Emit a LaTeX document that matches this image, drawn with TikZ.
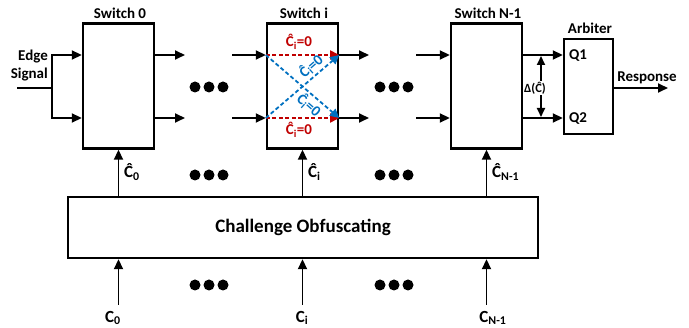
\documentclass[tikz,border=0pt]{standalone}
\usepackage{fontspec}
\setmainfont{Carlito}
\usetikzlibrary{arrows.meta}
\definecolor{myred}{RGB}{192,0,0}
\definecolor{myblue}{RGB}{0,112,192}
\begin{document}
\begin{tikzpicture}[x=1pt,y=-1pt,
  swbox/.style={draw, line width=2.4pt, inner sep=0pt, minimum width=71pt, minimum height=125pt},
  arr/.style={line width=1.8pt, -{Triangle[length=10pt,width=9pt]}},
  lbl/.style={font=\bfseries\fontsize{15}{18}\selectfont, inner sep=0pt},
  blbl/.style={font=\bfseries\fontsize{17}{18}\selectfont, inner sep=0pt},
  bigdot/.style={circle, fill=black, inner sep=0pt, minimum size=11pt},
  rdash/.style={myred, line width=1.8pt, dash pattern=on 4pt off 2.5pt, -{Triangle[length=9pt,width=9pt]}},
  bdash/.style={myblue, line width=1.8pt, dash pattern=on 4pt off 2.5pt, -{Triangle[length=9pt,width=9pt]}},
  clbl/.style={font=\bfseries\fontsize{15}{16}\selectfont, inner sep=0pt}
]
\useasboundingbox (0,0) rectangle (689,328);

% rows
\coordinate (yTop) at (0,55);
\coordinate (yBot) at (0,118);
\coordinate (yMid) at (0,88);

% switches
\node[swbox] (sw0) at (118.5,86) {};
\node[swbox] (swi) at (302.5,86) {};
\node[swbox] (swN) at (486.5,86) {};
\node[lbl, anchor=south] (t0) at (120,19) {Switch 0};
\node[lbl, anchor=south] (ti) at (304,19) {Switch i};
\node[lbl, anchor=south] (tN) at (488,19) {Switch N-1};

% arbiter
\node[draw, line width=2.4pt, inner sep=0pt, minimum width=49pt, minimum height=95pt] (arb) at (588.5,86.5) {};
\node[lbl, anchor=south] (ta) at (590,34) {Arbiter};
\node[lbl, anchor=west] (q1) at (569,56) {Q1};
\node[lbl, anchor=west] (q2) at (569,119) {Q2};

% edge signal
\node[lbl, align=right, anchor=east] (es) at (48,66) {Edge\\Signal};
\coordinate (esin) at (17,88);
\coordinate (split) at (52,88);
\draw[line width=1.8pt] (esin) -- (split);
\draw[arr] (split) |- (sw0.west |- yTop);
\draw[arr] (split) |- (sw0.west |- yBot);

% outputs of switch 0
\coordinate (o0a) at (185,55);
\coordinate (o0b) at (185,118);
\draw[arr] (sw0.east |- yTop) -- (o0a);
\draw[arr] (sw0.east |- yBot) -- (o0b);
% inputs of switch i
\coordinate (iia) at (232,55);
\coordinate (iib) at (232,118);
\draw[arr] (iia) -- (swi.west |- yTop);
\draw[arr] (iib) -- (swi.west |- yBot);
% outputs of switch i
\coordinate (oia) at (369,55);
\coordinate (oib) at (369,118);
\draw[arr] (swi.east |- yTop) -- (oia);
\draw[arr] (swi.east |- yBot) -- (oib);
% inputs of switch N-1
\coordinate (iNa) at (416,55);
\coordinate (iNb) at (416,118);
\draw[arr] (iNa) -- (swN.west |- yTop);
\draw[arr] (iNb) -- (swN.west |- yBot);
% outputs of switch N-1 to arbiter
\draw[arr] (swN.east |- yTop) -- (arb.west |- yTop);
\draw[arr] (swN.east |- yBot) -- (arb.west |- yBot);

% delta
\coordinate (dTop) at (541,56);
\coordinate (dBot) at (541,117);
\draw[line width=1.8pt, {Triangle[length=9pt,width=8pt]}-{Triangle[length=9pt,width=8pt]}] (dTop) -- (dBot);
\node[fill=white, inner sep=0.5pt, font=\bfseries\fontsize{12.5}{13}\selectfont] (dl) at (535,88) {Δ(\^{C})};

% response
\coordinate (resp) at (668,88);
\draw[arr] (arb.east |- yMid) -- (resp);
\node[lbl, anchor=south] (rl) at (647,84) {Response};

% switch i internals
\draw[rdash] (swi.west |- yTop) -- (swi.east |- yTop);
\draw[rdash] (swi.west |- yBot) -- (swi.east |- yBot);
\draw[bdash] (swi.west |- yTop) -- (swi.east |- yBot);
\draw[bdash] (swi.west |- yBot) -- (swi.east |- yTop);
\node[clbl, text=myred] (r1) at (299,42) {\^{C}\textsubscript{i}=0};
\node[clbl, text=myred] (r2) at (299,130) {\^{C}\textsubscript{i}=0};
\node[clbl, text=myblue, rotate=41.6] (b1) at (311,66) {\^{C}\textsubscript{i}=0};
\node[clbl, text=myblue, rotate=-41.6] (b2) at (309,105) {\^{C}\textsubscript{i}=0};

% dots
\foreach \n/\x/\y in {a1/195/87,a2/209/87,a3/223/87,b1/380/87,b2/394/87,b3/408/87,
                      c1/195/175,c2/209/175,c3/223/175,d1/380/175,d2/394/175,d3/408/175,
                      e1/195/285,e2/209/285,e3/223/285,f1/380/285,f2/394/285,f3/408/285}
  \node[bigdot] (dot\n) at (\x,\y) {};

% challenge obfuscating
\node[draw, line width=2.4pt, inner sep=0pt, minimum width=470pt, minimum height=61pt,
      font=\bfseries\fontsize{19}{22}\selectfont] (cb) at (303,227.5) {Challenge Obfuscating};

% hat-C arrows
\draw[arr] (cb.north -| sw0.south) -- (sw0.south);
\draw[arr] (cb.north -| swi.south) -- (swi.south);
\draw[arr] (cb.north -| swN.south) -- (swN.south);
\node[blbl, anchor=west] (h0) at (124,172) {\^{C}\textsubscript{0}};
\node[blbl, anchor=west] (hi) at (308,172) {\^{C}\textsubscript{i}};
\node[blbl, anchor=west] (hN) at (492,172) {\^{C}\textsubscript{N-1}};

% C inputs
\coordinate (c0) at (118.5,305);
\coordinate (ci) at (302.5,305);
\coordinate (cN) at (486.5,305);
\draw[arr] (c0) -- (c0 |- cb.south);
\draw[arr] (ci) -- (ci |- cb.south);
\draw[arr] (cN) -- (cN |- cb.south);
\node[blbl] (l0) at (113,318) {C\textsubscript{0}};
\node[blbl] (li) at (302,318) {C\textsubscript{i}};
\node[blbl] (lN) at (493,318) {C\textsubscript{N-1}};
\end{tikzpicture}
\end{document}
